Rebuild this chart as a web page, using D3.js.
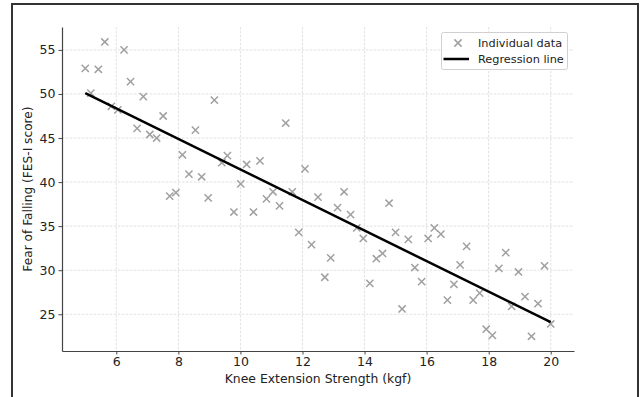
<!DOCTYPE html>
<html>
<head>
<meta charset="utf-8">
<script src="https://cdn.jsdelivr.net/npm/d3@7/dist/d3.min.js"></script>
<style>
  body { margin: 0; background: #fff; }
  svg { display: block; font-family: "DejaVu Sans", sans-serif; }
</style>
</head>
<body>
<script>
// 個別データ (膝伸展筋力 kgf, FES-I スコア)
const strength = [
  5.00, 5.18, 5.42, 5.63, 5.84, 6.05, 6.25, 6.46, 6.67, 6.87,
  7.08, 7.30, 7.51, 7.72, 7.92, 8.13, 8.34, 8.55, 8.75, 8.96,
  9.16, 9.40, 9.58, 9.79, 10.01, 10.20, 10.42, 10.63, 10.84, 11.05,
  11.26, 11.46, 11.67, 11.88, 12.08, 12.29, 12.50, 12.72, 12.91, 13.13,
  13.34, 13.55, 13.75, 13.96, 14.17, 14.38, 14.58, 14.79, 15.00, 15.21,
  15.41, 15.62, 15.84, 16.05, 16.25, 16.46, 16.67, 16.88, 17.08, 17.29,
  17.50, 17.71, 17.92, 18.12, 18.33, 18.55, 18.74, 18.96, 19.17, 19.38,
  19.59, 19.80, 20.00
];
const fesi = [
  52.9, 50.1, 52.8, 55.9, 48.6, 48.2, 55.0, 51.4, 46.1, 49.7,
  45.4, 45.0, 47.5, 38.4, 38.8, 43.1, 40.9, 45.9, 40.6, 38.2,
  49.3, 42.2, 43.0, 36.6, 39.8, 42.0, 36.6, 42.4, 38.1, 38.9,
  37.3, 46.7, 38.9, 34.3, 41.5, 32.9, 38.3, 29.2, 31.4, 37.1,
  38.9, 36.3, 34.8, 33.6, 28.5, 31.3, 31.9, 37.6, 34.3, 25.6,
  33.5, 30.3, 28.7, 33.6, 34.8, 34.1, 26.6, 28.4, 30.6, 32.7,
  26.6, 27.4, 23.3, 22.6, 30.2, 32.0, 25.9, 29.8, 27.0, 22.5,
  26.2, 30.5, 23.9
];
const data = strength.map((x, i) => ({ x, y: fesi[i] }));

// 回帰直線の両端
const regX = [5, 20];
const regY = [50.1, 24.1];

const xTicks = [6, 8, 10, 12, 14, 16, 18, 20];
const yTicks = [25, 30, 35, 40, 45, 50, 55];

const width = 642;
const height = 397;
const plot = { left: 62, right: 574, top: 27, bottom: 351 };

const svg = d3.select("body")
  .append("svg")
  .attr("width", width)
  .attr("height", height);

svg.append("rect").attr("width", width).attr("height", height).attr("fill", "#fff");

// 外枠
svg.append("rect")
  .attr("x", 12).attr("y", 4)
  .attr("width", 626).attr("height", 420)
  .attr("fill", "none")
  .attr("stroke", "#333")
  .attr("stroke-width", 2);

// スケール (matplotlib の 5% マージン)
const xScale = d3.scaleLinear()
  .domain([4.25, 20.75])
  .range([plot.left, plot.right]);

const yScale = d3.scaleLinear()
  .domain([20.83, 57.6])
  .range([plot.bottom, plot.top]);

// グリッド
const grid = svg.append("g")
  .attr("stroke", "#d9d9d9")
  .attr("stroke-width", 0.8)
  .attr("stroke-dasharray", "2.5,1.5");

grid.selectAll("line.gx")
  .data(xTicks)
  .join("line")
  .attr("x1", (d) => xScale(d)).attr("x2", (d) => xScale(d))
  .attr("y1", plot.top).attr("y2", plot.bottom);

grid.selectAll("line.gy")
  .data(yTicks)
  .join("line")
  .attr("x1", plot.left).attr("x2", plot.right)
  .attr("y1", (d) => yScale(d)).attr("y2", (d) => yScale(d));

// 軸
const xAxis = d3.axisBottom(xScale).tickValues(xTicks).tickSizeInner(3.5).tickSizeOuter(0).tickPadding(3);
const yAxis = d3.axisLeft(yScale).tickValues(yTicks).tickSizeInner(3.5).tickSizeOuter(0).tickPadding(3);

const gx = svg.append("g")
  .attr("transform", `translate(0,${plot.bottom})`)
  .call(xAxis);

const gy = svg.append("g")
  .attr("transform", `translate(${plot.left},0)`)
  .call(yAxis);

[gx, gy].forEach((g) => {
  g.select(".domain").attr("stroke", "#444").attr("stroke-width", 1.2);
  g.selectAll(".tick line").attr("stroke", "#444");
  g.selectAll(".tick text")
    .attr("fill", "#222")
    .style("font-family", "DejaVu Sans")
    .style("font-size", "12.5px");
});

// 軸ラベル
svg.append("text")
  .attr("x", (plot.left + plot.right) / 2)
  .attr("y", 383)
  .attr("text-anchor", "middle")
  .attr("fill", "#222")
  .style("font-size", "12.4px")
  .text("Knee Extension Strength (kgf)");

svg.append("text")
  .attr("transform", `translate(28,${(plot.top + plot.bottom) / 2}) rotate(-90)`)
  .attr("text-anchor", "middle")
  .attr("dy", "0.35em")
  .attr("fill", "#222")
  .style("font-size", "12.2px")
  .text("Fear of Falling (FES-I score)");

// 個別データの×印
const s = 3.6;
const marks = svg.append("g")
  .attr("stroke", "#a0a0a0")
  .attr("stroke-width", 1.5)
  .attr("fill", "none");

marks.selectAll("path")
  .data(data)
  .join("path")
  .attr("d", (d) => {
    const cx = xScale(d.x);
    const cy = yScale(d.y);
    return `M${cx - s},${cy - s}L${cx + s},${cy + s}M${cx - s},${cy + s}L${cx + s},${cy - s}`;
  });

// 回帰直線
const line = d3.line()
  .x((d, i) => xScale(regX[i]))
  .y((d, i) => yScale(regY[i]));

svg.append("path")
  .datum(regX)
  .attr("d", line)
  .attr("fill", "none")
  .attr("stroke", "#000")
  .attr("stroke-width", 2.5);

// 凡例
const legend = svg.append("g");
legend.append("rect")
  .attr("x", 441.5).attr("y", 32.5)
  .attr("width", 126).attr("height", 37)
  .attr("rx", 2)
  .attr("fill", "rgba(255,255,255,0.85)")
  .attr("stroke", "#d0d0d0")
  .attr("stroke-width", 1);

const lx = 458, ly1 = 43, ly2 = 59;
legend.append("path")
  .attr("d", `M${lx - s},${ly1 - s}L${lx + s},${ly1 + s}M${lx - s},${ly1 + s}L${lx + s},${ly1 - s}`)
  .attr("stroke", "#a0a0a0")
  .attr("stroke-width", 1.5);

legend.append("line")
  .attr("x1", 443.5).attr("x2", 469)
  .attr("y1", ly2).attr("y2", ly2)
  .attr("stroke", "#000")
  .attr("stroke-width", 2.5);

legend.selectAll("text")
  .data(["Individual data", "Regression line"])
  .join("text")
  .attr("x", 478)
  .attr("y", (d, i) => (i === 0 ? ly1 : ly2))
  .attr("dy", "0.35em")
  .attr("fill", "#222")
  .style("font-size", "11.3px")
  .text((d) => d);
</script>
</body>
</html>
